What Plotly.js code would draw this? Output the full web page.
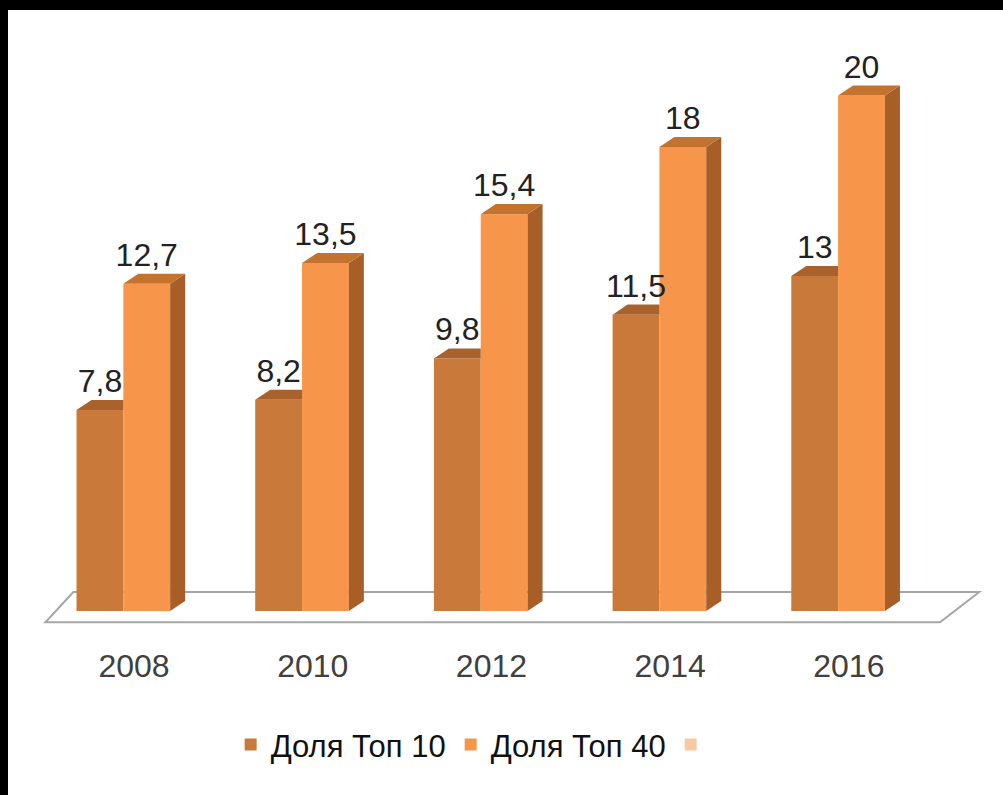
<!DOCTYPE html>
<html>
<head>
<meta charset="utf-8">
<script src="https://cdn.plot.ly/plotly-3.0.1.min.js"></script>
<style>
  html, body { margin: 0; padding: 0; background: #000; width: 1003px; height: 795px; overflow: hidden; }
  #chart { position: absolute; left: 8px; top: 10px; width: 995px; height: 785px; background: #fff; }
</style>
</head>
<body>
<div id="chart"></div>
<script>
// ---- data ----
const years = ['2008', '2010', '2012', '2014', '2016'];
const top10 = [7.8, 8.2, 9.8, 11.5, 13];
const top40 = [12.7, 13.5, 15.4, 18, 20];
const seriesNames = ['Доля Топ 10', 'Доля Топ 40', ' '];
const seriesColors = ['#C97A3A', '#F7964A', '#F8C9A2'];

// ---- styling constants (3D look) ----
const W = 0.262;    // bar width (x units)
const DX = 0.084;   // depth offset x
const DY = 0.39;    // depth offset y
const topColors = ['#A9622B', '#C4732F'];
const sideColor = '#A85E27';

const idx = years.map((_, i) => i);
const fmt = v => String(v).replace('.', ',');

// top faces / side faces built from the data values
const t10 = { xs: [], ys: [] };
top10.forEach((v, i) => {
  t10.xs.push(i - W, i - W + DX, i, i, i - W, null);
  t10.ys.push(v, v + DY, v + DY, v, v, null);
});
const t40 = { xs: [], ys: [] };
const s40 = { xs: [], ys: [] };
top40.forEach((v, i) => {
  t40.xs.push(i, i + DX, i + W + DX, i + W, i, null);
  t40.ys.push(v, v + DY, v + DY, v, v, null);
  s40.xs.push(i + W, i + W + DX, i + W + DX, i + W, i + W, null);
  s40.ys.push(0, DY, v + DY, v, 0, null);
});

const labelFont = { family: 'Liberation Sans, Arial, sans-serif', size: 32, color: '#222222' };

const traces = [
  { type: 'bar', name: seriesNames[0], x: idx, y: top10, width: W, offset: -W,
    marker: { color: seriesColors[0], line: { width: 0 } }, hoverinfo: 'skip' },
  { type: 'bar', name: seriesNames[1], x: idx, y: top40, width: W, offset: 0,
    marker: { color: seriesColors[1], line: { width: 0 } }, hoverinfo: 'skip' },
  { type: 'bar', name: seriesNames[2], x: [0], y: [0], width: W,
    marker: { color: seriesColors[2], line: { width: 0 } }, hoverinfo: 'skip' },
  { type: 'scatter', mode: 'lines', x: t10.xs, y: t10.ys, fill: 'toself', fillcolor: topColors[0],
    line: { width: 0, color: topColors[0] }, showlegend: false, hoverinfo: 'skip' },
  { type: 'scatter', mode: 'lines', x: s40.xs, y: s40.ys, fill: 'toself', fillcolor: sideColor,
    line: { width: 0, color: sideColor }, showlegend: false, hoverinfo: 'skip' },
  { type: 'scatter', mode: 'lines', x: t40.xs, y: t40.ys, fill: 'toself', fillcolor: topColors[1],
    line: { width: 0, color: topColors[1] }, showlegend: false, hoverinfo: 'skip' },
  { type: 'scatter', mode: 'text', x: idx.map(i => i - W / 2), y: top10.map(v => v + DY),
    text: top10.map(fmt), textposition: 'top center', cliponaxis: false,
    textfont: labelFont, showlegend: false, hoverinfo: 'skip' },
  { type: 'scatter', mode: 'text', x: idx.map(i => i + W / 2), y: top40.map(v => v + DY),
    text: top40.map(fmt), textposition: 'top center', cliponaxis: false,
    textfont: labelFont, showlegend: false, hoverinfo: 'skip' }
];

// floor parallelogram
const FL = { x0f: -0.436, x1f: 4.57, x0b: -0.28, x1b: 4.79, yf: -0.43, yb: 0.74 };
const floorPath = `M${FL.x0f},${FL.yf} L${FL.x1f},${FL.yf} L${FL.x1b},${FL.yb} L${FL.x0b},${FL.yb} Z`;

const layout = {
  width: 995, height: 785,
  margin: { l: 26, r: 13, t: 34, b: 171 },
  paper_bgcolor: '#ffffff', plot_bgcolor: '#ffffff',
  barmode: 'overlay',
  showlegend: true,
  font: { family: 'Liberation Sans, Arial, sans-serif', color: '#262626' },
  xaxis: {
    range: [-0.5, 4.85], showgrid: false, zeroline: false, showline: false,
    tickvals: idx.map(i => i + 0.06), ticktext: years, ticks: '',
    tickfont: { size: 32, color: '#404040' }, ticklabelstandoff: 20, fixedrange: true
  },
  yaxis: {
    range: [-0.5, 22], showgrid: false, zeroline: false, showline: false,
    showticklabels: false, ticks: '', fixedrange: true
  },
  legend: {
    orientation: 'h', xref: 'container', yref: 'container',
    x: 0.472, xanchor: 'center', y: 0.064, yanchor: 'middle',
    font: { size: 31, color: '#111111' }, itemwidth: 30, bgcolor: 'rgba(0,0,0,0)'
  },
  shapes: [
    { type: 'path', xref: 'x', yref: 'y', path: floorPath, layer: 'below',
      line: { color: '#A6A6A6', width: 2 }, fillcolor: 'rgba(0,0,0,0)' }
  ]
};

Plotly.newPlot('chart', traces, layout, { staticPlot: true, displayModeBar: false });
</script>
</body>
</html>
